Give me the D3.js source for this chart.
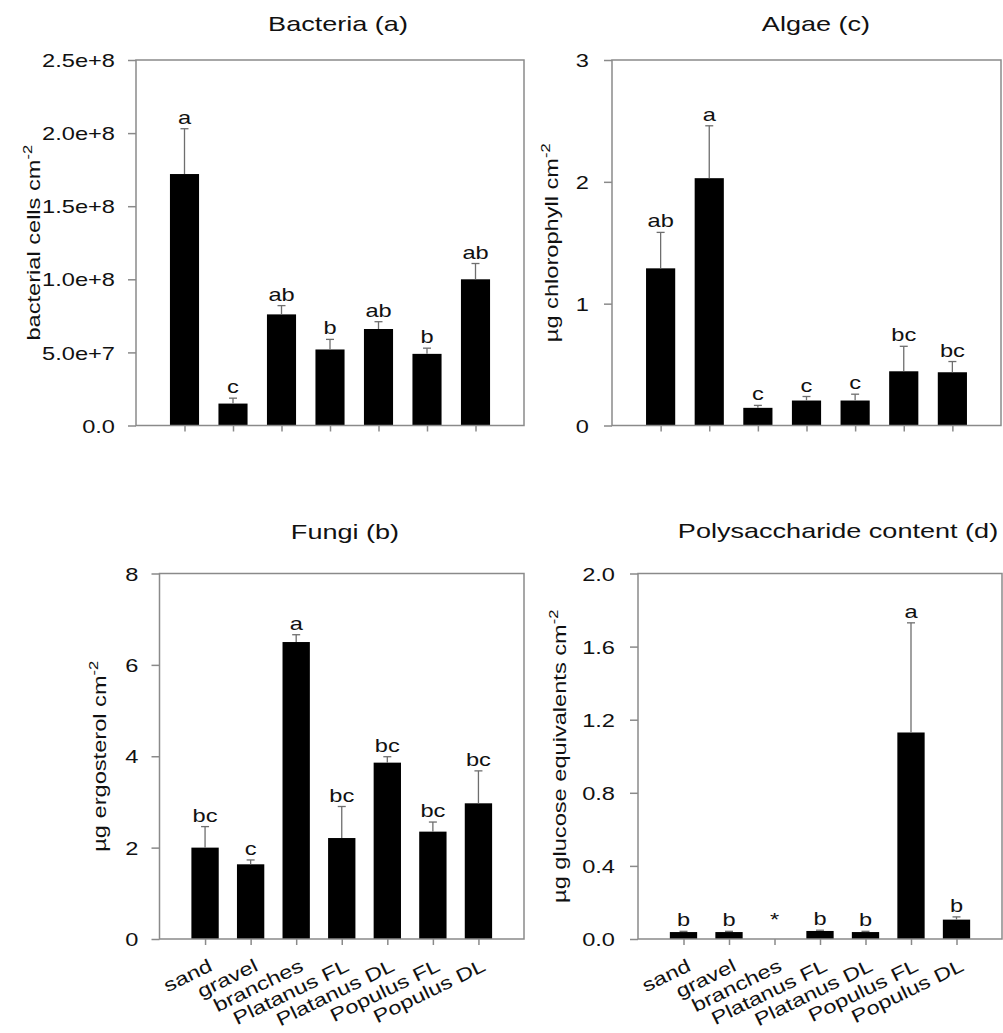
<!DOCTYPE html>
<html>
<head>
<meta charset="utf-8">
<script src="https://cdn.jsdelivr.net/npm/d3@7"></script>
<style>
  body { margin: 0; background: #fff; }
  svg { display: block; font-family: "Liberation Sans", Arial, sans-serif; }
</style>
</head>
<body>
<div id="chart"></div>
<script>
// Substrates (same order in every panel)
const categories = ["sand", "gravel", "branches", "Platanus FL", "Platanus DL", "Populus FL", "Populus DL"];

// Bacteria (a)
const bacteriaMean = [1.72e8, 1.5e7, 7.6e7, 5.2e7, 6.6e7, 4.9e7, 1.0e8];
const bacteriaErr = [3.1e7, 3.7e6, 6.0e6, 6.9e6, 5.0e6, 3.9e6, 1.08e7];
const bacteriaLetters = ["a", "c", "ab", "b", "ab", "b", "ab"];
const bacteriaTicks = [0, 5e7, 1e8, 1.5e8, 2e8, 2.5e8];

// Algae (c)
const algaeMean = [1.29, 2.03, 0.145, 0.205, 0.205, 0.445, 0.437];
const algaeErr = [0.295, 0.43, 0.02, 0.033, 0.052, 0.205, 0.088];
const algaeLetters = ["ab", "a", "c", "c", "c", "bc", "bc"];
const algaeTicks = [0, 1, 2, 3];

// Fungi (b)
const fungiMean = [2.0, 1.635, 6.5, 2.21, 3.86, 2.35, 2.97];
const fungiErr = [0.46, 0.095, 0.16, 0.69, 0.13, 0.21, 0.71];
const fungiLetters = ["bc", "c", "a", "bc", "bc", "bc", "bc"];
const fungiTicks = [0, 2, 4, 6, 8];

// Polysaccharide content (d) - no value for branches
const polyMean = [0.038, 0.038, null, 0.044, 0.038, 1.13, 0.106];
const polyErr = [0.004, 0.004, null, 0.004, 0.004, 0.60, 0.015];
const polyLetters = ["b", "b", "*", "b", "b", "a", "b"];
const polyTicks = [0, 0.4, 0.8, 1.2, 1.6, 2.0];

const width = 1003;
const height = 1033;
const axisColor = "#8a8a8a";
const textColor = "#111";
const fontSize = 18.6;
const sx = 1.27;   // the original font is drawn wide

const svg = d3.create("svg")
    .attr("width", width)
    .attr("height", height)
    .attr("viewBox", [0, 0, width, height]);

const panels = [
  { title: "Bacteria (a)", titleX: 338, titleY: 31,
    label: "bacterial cells cm", labelX: 40,
    left: 136, right: 524, top: 60, bottom: 425.5, max: 2.5e8,
    ticks: bacteriaTicks, fmt: d => d === 0 ? "0.0" : d3.format(".1e")(d), gap: 13,
    mean: bacteriaMean, err: bacteriaErr, letters: bacteriaLetters, xLabels: false },
  { title: "Algae (c)", titleX: 816, titleY: 31,
    label: "\u00b5g chlorophyll cm", labelX: 558,
    left: 612, right: 1001, top: 60, bottom: 425.5, max: 3,
    ticks: algaeTicks, fmt: d3.format("d"), gap: 15,
    mean: algaeMean, err: algaeErr, letters: algaeLetters, xLabels: false },
  { title: "Fungi (b)", titleX: 345, titleY: 539,
    label: "\u00b5g ergosterol cm", labelX: 106,
    left: 159.5, right: 524, top: 573.5, bottom: 939, max: 8,
    ticks: fungiTicks, fmt: d3.format("d"), gap: 13,
    mean: fungiMean, err: fungiErr, letters: fungiLetters, xLabels: true },
  { title: "Polysaccharide content (d)", titleX: 838, titleY: 538,
    label: "\u00b5g glucose equivalents cm", labelX: 566,
    left: 638, right: 1002, top: 573.5, bottom: 939, max: 2,
    ticks: polyTicks, fmt: d3.format(".1f"), gap: 15,
    mean: polyMean, err: polyErr, letters: polyLetters, xLabels: true }
];

panels.forEach(drawPanel);

function drawPanel(p) {
  const x = d3.scalePoint(categories, [p.left, p.right]).padding(1);
  const y = d3.scaleLinear([0, p.max], [p.bottom, p.top]);
  const bw = x.step() * 0.6;
  const g = svg.append("g");

  // title
  g.append("text")
      .attr("transform", `translate(${p.titleX},${p.titleY}) scale(1.32,1)`)
      .attr("text-anchor", "middle")
      .attr("font-size", 20.5)
      .attr("fill", textColor)
      .text(p.title);

  // y label with superscript
  const lab = g.append("text")
      .attr("transform", `translate(${p.labelX},${(p.top + p.bottom) / 2}) rotate(-90) scale(${sx},1)`)
      .attr("text-anchor", "middle")
      .attr("font-size", fontSize)
      .attr("fill", textColor);
  lab.append("tspan").text(p.label);
  lab.append("tspan").attr("font-size", 13).attr("dy", -8).text("-2");

  // bars
  const rows = categories.map((c, i) => ({ c, m: p.mean[i], e: p.err[i], l: p.letters[i] }));
  g.append("g")
    .selectAll("rect")
    .data(rows.filter(d => d.m != null))
    .join("rect")
      .attr("x", d => x(d.c) - bw / 2)
      .attr("y", d => y(d.m))
      .attr("width", bw)
      .attr("height", d => y(0) - y(d.m))
      .attr("fill", "#000");

  // error bars (upper only)
  const eb = g.append("g")
      .attr("stroke", "#6e6e6e")
      .attr("stroke-width", 1.3)
    .selectAll("g")
    .data(rows.filter(d => d.m != null))
    .join("g");
  eb.append("line")
      .attr("x1", d => x(d.c)).attr("x2", d => x(d.c))
      .attr("y1", d => y(d.m)).attr("y2", d => y(d.m + d.e));
  eb.append("line")
      .attr("x1", d => x(d.c) - 4).attr("x2", d => x(d.c) + 4)
      .attr("y1", d => y(d.m + d.e)).attr("y2", d => y(d.m + d.e));

  // significance letters
  g.append("g")
    .selectAll("text")
    .data(rows)
    .join("text")
      .attr("transform", d => `translate(${x(d.c)},${d.m == null ? y(0) - 13 : y(d.m + d.e) - 5}) scale(${sx},1)`)
      .attr("text-anchor", "middle")
      .attr("font-size", fontSize)
      .attr("fill", textColor)
      .text(d => d.l);

  // frame
  g.append("rect")
      .attr("x", p.left).attr("y", p.top)
      .attr("width", p.right - p.left).attr("height", p.bottom - p.top)
      .attr("fill", "none")
      .attr("stroke", axisColor)
      .attr("stroke-width", 1.5);

  // y axis
  g.append("g")
      .attr("transform", `translate(${p.left},0)`)
      .call(d3.axisLeft(y).tickValues(p.ticks).tickSize(8).tickFormat(p.fmt))
      .call(a => a.select(".domain").remove())
      .call(a => a.selectAll(".tick line").attr("stroke", axisColor).attr("stroke-width", 1.5))
      .call(a => a.selectAll(".tick text")
          .attr("x", null).attr("dy", "0.36em")
          .attr("transform", `translate(${-(8 + p.gap)},0) scale(${sx},1)`)
          .attr("font-size", fontSize)
          .attr("font-family", null)
          .attr("fill", textColor));

  // x axis
  g.append("g")
      .attr("transform", `translate(0,${p.bottom})`)
      .call(d3.axisBottom(x).tickSize(6).tickFormat(p.xLabels ? d => d : () => ""))
      .call(a => a.select(".domain").remove())
      .call(a => a.selectAll(".tick line").attr("stroke", axisColor).attr("stroke-width", 1.5))
      .call(a => a.selectAll(".tick text")
          .attr("y", null).attr("dy", null)
          .attr("text-anchor", "end")
          .attr("transform", `translate(8,31) rotate(-26) scale(${sx},1)`)
          .attr("font-size", fontSize)
          .attr("font-family", null)
          .attr("fill", textColor));
}

document.getElementById("chart").appendChild(svg.node());
</script>
</body>
</html>
